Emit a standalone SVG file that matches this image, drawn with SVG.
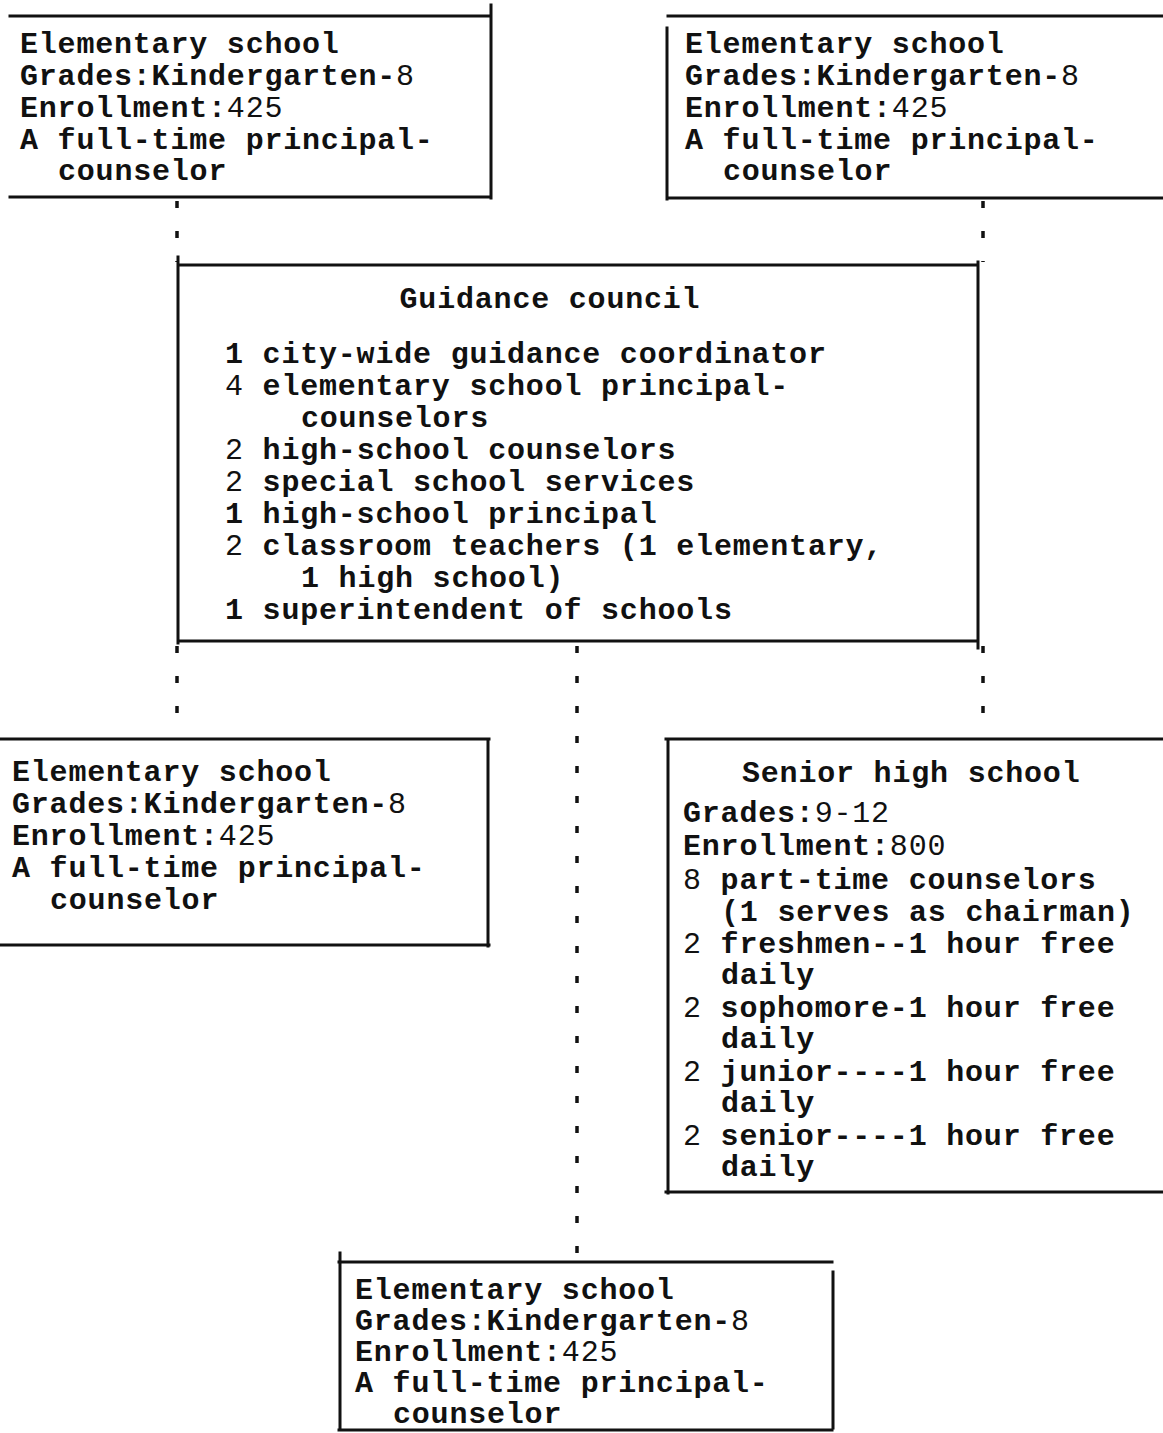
<svg xmlns="http://www.w3.org/2000/svg" width="1163" height="1433" viewBox="0 0 1163 1433">
<style>
  .bx { fill: none; stroke: #111; stroke-width: 3; stroke-linecap: square; }
  .cn { fill: none; stroke: #111; stroke-width: 3.5; stroke-dasharray: 7 23; }
  text { font-family: "Liberation Mono", "DejaVu Sans Mono", monospace; font-size: 30px; font-weight: bold; fill: #111; letter-spacing: 0.8px; }
  .n { font-weight: normal; }
</style>
<rect width="1163" height="1433" fill="#fff"/>
<g id="connectors">
  <path class="cn" d="M177,201 V262"/>
  <path class="cn" d="M983,201 V262"/>
  <path class="cn" d="M177,646 V736"/>
  <path class="cn" d="M983,646 V736"/>
  <path class="cn" d="M577,646 V1260"/>
</g>
<g id="elem-top-left">
  <path class="bx" d="M10,16 H491 M491,5 V198 M10,197 H491"/>
  <text x="20" y="53">Elementary school</text>
  <text x="20" y="85">Grades:Kindergarten-<tspan class="n">8</tspan></text>
  <text x="20" y="117">Enrollment:<tspan class="n">425</tspan></text>
  <text x="20" y="149">A full-time principal-</text>
  <text x="58" y="180">counselor</text>
</g>
<g id="elem-top-right">
  <path class="bx" d="M668,16 H1163 M667,28 V199 M667,198 H1163"/>
  <text x="685" y="53">Elementary school</text>
  <text x="685" y="85">Grades:Kindergarten-<tspan class="n">8</tspan></text>
  <text x="685" y="117">Enrollment:<tspan class="n">425</tspan></text>
  <text x="685" y="149">A full-time principal-</text>
  <text x="723" y="180">counselor</text>
</g>
<g id="guidance-council">
  <path class="bx" d="M180,265 H975 M178,257 V643 M978,262 V648 M180,641 H975"/>
  <text x="550" y="308" text-anchor="middle">Guidance council</text>
  <text x="225" y="363">1 city-wide guidance coordinator</text>
  <text x="225" y="395"><tspan class="n">4</tspan> elementary school principal-</text>
  <text x="301" y="427">counselors</text>
  <text x="225" y="459"><tspan class="n">2</tspan> high-school counselors</text>
  <text x="225" y="491"><tspan class="n">2</tspan> special school services</text>
  <text x="225" y="523">1 high-school principal</text>
  <text x="225" y="555"><tspan class="n">2</tspan> classroom teachers (1 elementary,</text>
  <text x="301" y="587">1 high school)</text>
  <text x="225" y="619">1 superintendent of schools</text>
</g>
<g id="elem-mid-left">
  <path class="bx" d="M0,739 H489 M488,739 V946 M0,945 H489"/>
  <text x="12" y="781">Elementary school</text>
  <text x="12" y="813">Grades:Kindergarten-<tspan class="n">8</tspan></text>
  <text x="12" y="845">Enrollment:<tspan class="n">425</tspan></text>
  <text x="12" y="877">A full-time principal-</text>
  <text x="50" y="909">counselor</text>
</g>
<g id="senior-high">
  <path class="bx" d="M666,739 H1163 M668,739 V1193 M666,1192 H1163"/>
  <text x="742" y="782">Senior high school</text>
  <text x="683" y="822">Grades:<tspan class="n">9-12</tspan></text>
  <text x="683" y="855">Enrollment:<tspan class="n">800</tspan></text>
  <text x="683" y="889"><tspan class="n">8</tspan> part-time counselors</text>
  <text x="721" y="921">(1 serves as chairman)</text>
  <text x="683" y="953"><tspan class="n">2</tspan> freshmen--1 hour free</text>
  <text x="721" y="984">daily</text>
  <text x="683" y="1017"><tspan class="n">2</tspan> sophomore-1 hour free</text>
  <text x="721" y="1048">daily</text>
  <text x="683" y="1081"><tspan class="n">2</tspan> junior----1 hour free</text>
  <text x="721" y="1112">daily</text>
  <text x="683" y="1145"><tspan class="n">2</tspan> senior----1 hour free</text>
  <text x="721" y="1176">daily</text>
</g>
<g id="elem-bottom">
  <path class="bx" d="M339,1262 H832 M340,1253 V1430 M833,1272 V1428 M339,1430 H832"/>
  <text x="355" y="1299">Elementary school</text>
  <text x="355" y="1330">Grades:Kindergarten-<tspan class="n">8</tspan></text>
  <text x="355" y="1361">Enrollment:<tspan class="n">425</tspan></text>
  <text x="355" y="1392">A full-time principal-</text>
  <text x="393" y="1423">counselor</text>
</g>
</svg>
